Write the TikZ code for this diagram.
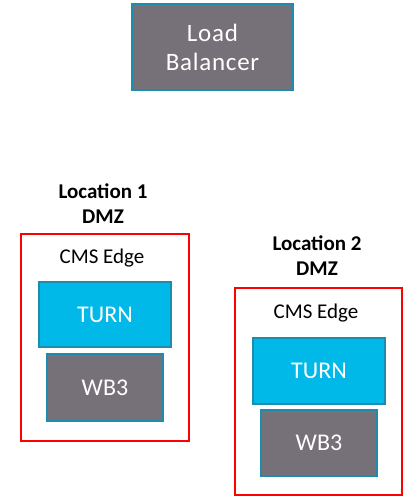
\documentclass[tikz,border=0pt]{standalone}
\usepackage{fontspec}
\setmainfont{Carlito}
\definecolor{boxgray}{RGB}{118,113,120}
\definecolor{boxedge}{RGB}{30,140,172}
\definecolor{turncyan}{RGB}{0,185,232}
\tikzset{
  grayblock/.style={draw=boxedge, line width=2pt, fill=boxgray, text=white, inner sep=0pt},
  turnblock/.style={draw=boxedge, line width=2pt, fill=turncyan, text=white, inner sep=0pt},
  dmzframe/.style={draw=red, line width=2pt, inner sep=0pt},
  boxtext/.style={font=\fontsize{24}{29}\selectfont},
  spacedtext/.style={font=\fontsize{25}{29}\selectfont\addfontfeatures{LetterSpace=3}},
  loclabel/.style={font=\fontsize{21}{25}\selectfont\bfseries, align=center, inner sep=0pt},
  edgelabel/.style={font=\fontsize{21}{25}\selectfont, inner sep=0pt, anchor=base}
}

\begin{document}
\begin{tikzpicture}[x=1pt, y=-1pt]
	%%%%% START %%%%%
	\useasboundingbox (0, 0) rectangle (403, 496);

	\node[grayblock, spacedtext, align=center, minimum width=161pt, minimum height=86pt] (lb) at (212.5, 47) {Load\\Balancer};

	% location 1
	\node[loclabel] (locA) at (103, 204) {Location 1\\DMZ};
	\node[dmzframe, minimum width=168pt, minimum height=207pt] (dmzA) at (105, 337.5) {};
	\node[edgelabel] (cmsA) at (102, 263) {CMS Edge};
	\node[turnblock, boxtext, minimum width=132pt, minimum height=65pt] (turnA) at (105, 314.5) {TURN};
	\node[grayblock, boxtext, minimum width=116pt, minimum height=67pt] (wbA) at (105, 387.5) {WB3};

	% location 2
	\node[loclabel] (locB) at (317, 256) {Location 2\\DMZ};
	\node[dmzframe, minimum width=167pt, minimum height=207pt] (dmzB) at (318.5, 391.5) {};
	\node[edgelabel] (cmsB) at (316, 318) {CMS Edge};
	\node[turnblock, boxtext, minimum width=132pt, minimum height=66pt] (turnB) at (319, 371) {TURN};
	\node[grayblock, boxtext, minimum width=116pt, minimum height=66pt] (wbB) at (319, 443) {WB3};
	%%%%% END %%%%%
\end{tikzpicture}
\end{document}
